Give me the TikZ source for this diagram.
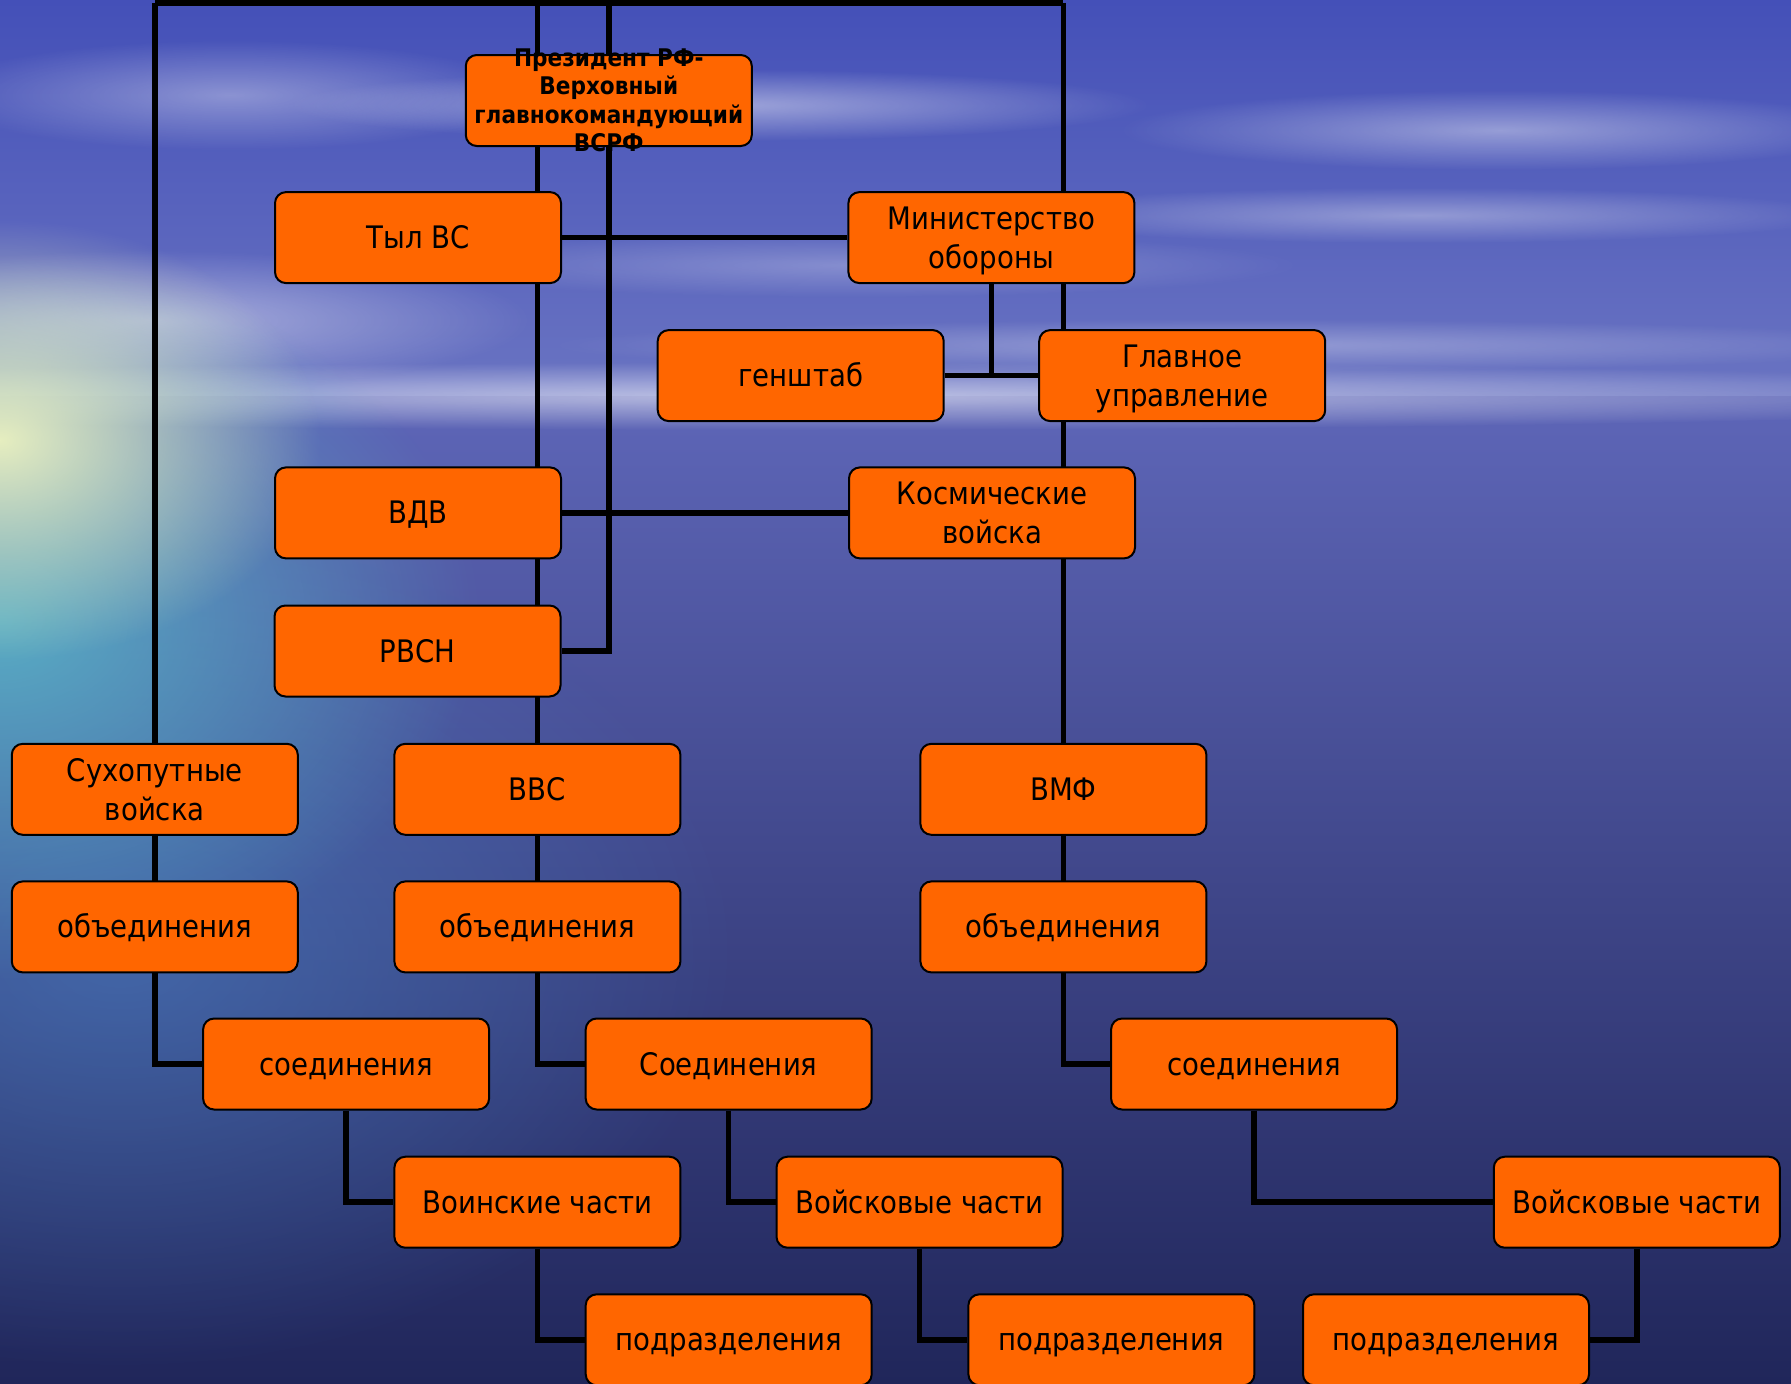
\documentclass[tikz,border=0pt]{standalone}
\usepackage{fontspec}
\setmainfont{DejaVu Sans}[FakeStretch=0.89]
\usetikzlibrary{fadings}
\tikzfading[name=softout, inner color=transparent!0, outer color=transparent!100]
\definecolor{boxorange}{HTML}{FF6600}
\definecolor{skytop}{HTML}{4450B8}
\definecolor{skyhor}{HTML}{6A74C2}
\definecolor{seatop}{HTML}{5E66B8}
\definecolor{seamid}{HTML}{303A92}
\definecolor{seabot}{HTML}{20265A}
\definecolor{sunglow}{HTML}{E6EEC0}
\definecolor{tealglow}{HTML}{5AB6C8}
\definecolor{seablue}{HTML}{4A86C8}
\newcommand{\firstup}{\rule{0pt}{31pt}}
\newcommand{\lastdn}{\rule[-8pt]{0pt}{8pt}}
\pgfdeclarelayer{bg}
\pgfdeclarelayer{lines}
\pgfsetlayers{bg,lines,main}
\begin{document}
\begin{tikzpicture}[x=1pt,y=-1pt,
  box/.style={draw=black, line width=2pt, fill=boxorange, rounded corners=11pt,
    minimum width=286pt, minimum height=91pt, inner sep=0pt, align=center,
    font=\fontsize{31}{39}\selectfont, text=black},
  oneline/.style={box, text height=28pt, text depth=6pt},
  link/.style={draw=black, line width=5.5pt},
  cloud/.style={fill=white, path fading=softout}
]
\useasboundingbox (0,0) rectangle (1791,1384);

% ---------- nodes ----------
\node[box, label={[font=\bfseries\fontsize{24.3}{28.5}\selectfont, align=center]center:Президент РФ-\\Верховный\\главнокомандующий\\ВСРФ}] (pres) at (608.8,100.5) {};
\node[oneline] (tyl)  at (418,237.6)   {Тыл ВС};
\node[box] (min)  at (991.4,237.6) {\firstup Министерство\\обороны\lastdn};
\node[oneline] (gen)  at (800.7,375.6) {генштаб};
\node[box] (glav) at (1182.2,375.6) {\firstup Главное\\управление\lastdn};
\node[oneline] (vdv)  at (418,512.9)   {ВДВ};
\node[box] (kosm) at (992,512.9)   {\firstup Космические\\войска\lastdn};
\node[oneline] (rvsn) at (417.5,651)   {РВСН};
\node[box] (sv)   at (154.8,789.3) {\firstup Сухопутные\\войска\lastdn};
\node[oneline] (vvs)  at (537.4,789.3) {ВВС};
\node[oneline] (vmf)  at (1063.4,789.3) {ВМФ};
\node[oneline] (ob1)  at (154.8,926.9) {объединения};
\node[oneline] (ob2)  at (537.4,926.9) {объединения};
\node[oneline] (ob3)  at (1063.4,926.9) {объединения};
\node[oneline] (so1)  at (346.1,1064)  {соединения};
\node[oneline] (so2)  at (728.7,1064)  {Соединения};
\node[oneline] (so3)  at (1254.1,1064) {соединения};
\node[oneline] (vch1) at (537.4,1202.2) {Воинские части};
\node[oneline] (vch2) at (919.5,1202.2) {Войсковые части};
\node[oneline] (vch3) at (1636.8,1202.2) {Войсковые части};
\node[oneline] (pd1)  at (728.7,1339.8) {подразделения};
\node[oneline] (pd2)  at (1111.4,1339.8) {подразделения};
\node[oneline] (pd3)  at (1446,1339.8) {подразделения};

\coordinate (tl) at (154.8,2.8);
\coordinate (tr) at (1063.4,2.8);
\coordinate (t1) at (537.4,0);
\coordinate (t2) at (608.8,0);

% ---------- connectors ----------
\begin{pgfonlayer}{lines}
\draw[link] (tl) -- (tr);
\draw[link] (tl) |- (so1.west);
\draw[link] (t1) |- (so2.west);
\draw[link] (t2) |- (rvsn.east);
\draw[link] (tr) |- (so3.west);
\draw[link] (tyl.east) -- (min.west);
\draw[link] (min.south) -- (min.south |- gen.east);
\draw[link] (gen.east) -- (glav.west);
\draw[link] (vdv.east) -- (kosm.west);
\draw[link] (so1.south) |- (vch1.west);
\draw[link] (so2.south) |- (vch2.west);
\draw[link] (so3.south) |- (vch3.west);
\draw[link] (vch1.south) |- (pd1.west);
\draw[link] (vch2.south) |- (pd2.west);
\draw[link] (vch3.south) |- (pd3.east);
\end{pgfonlayer}

% ---------- background ----------
\begin{pgfonlayer}{bg}
\begin{scope}
\clip (0,0) rectangle (1791,1384);
\shade[top color=skytop, bottom color=skyhor] (0,0) rectangle (1791,397);
\shade[top color=seatop, middle color=seamid, bottom color=seabot] (0,396) rectangle (1791,1384);
% clouds
\fill[cloud, fill opacity=0.45] (720,105) ellipse [x radius=430pt, y radius=36pt];
\fill[cloud, fill opacity=0.40] (1500,130) ellipse [x radius=380pt, y radius=40pt];
\fill[cloud, fill opacity=0.35] (1420,215) ellipse [x radius=430pt, y radius=28pt];
\fill[cloud, fill opacity=0.35] (230,95) ellipse [x radius=300pt, y radius=55pt];
\fill[cloud, fill opacity=0.25] (850,265) ellipse [x radius=450pt, y radius=32pt];
\fill[cloud, fill opacity=0.45] (150,320) ellipse [x radius=380pt, y radius=70pt];
\fill[cloud, fill opacity=0.30] (1250,345) ellipse [x radius=700pt, y radius=26pt];
% horizon
\fill[fill=white, path fading=softout, fill opacity=0.55] (800,396) ellipse [x radius=1400pt, y radius=34pt];
% sun and sea glow
\fill[fill=seablue, path fading=softout, fill opacity=0.55] (120,950) ellipse [x radius=620pt, y radius=420pt];
\fill[fill=tealglow, path fading=softout, fill opacity=0.9] (0,620) ellipse [x radius=480pt, y radius=360pt];
\fill[fill=sunglow, path fading=softout, fill opacity=1] (0,440) ellipse [x radius=320pt, y radius=220pt];
\end{scope}
\end{pgfonlayer}
\end{tikzpicture}
\end{document}
